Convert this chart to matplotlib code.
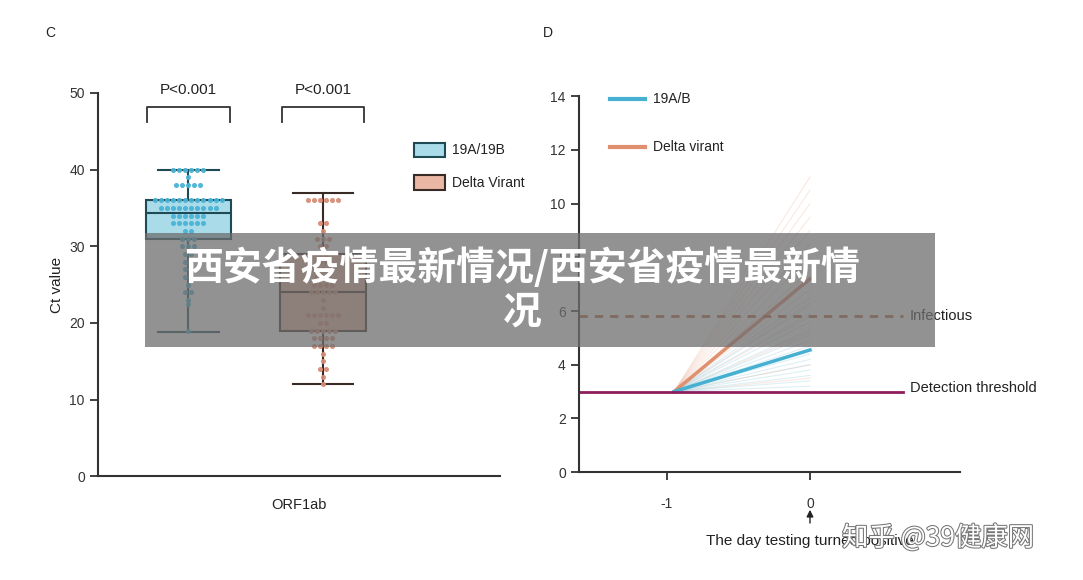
import matplotlib
matplotlib.use("Agg")
import matplotlib.pyplot as plt
import matplotlib.patheffects as pe
import numpy as np
from matplotlib.patches import Rectangle

plt.rcParams['font.family'] = ['Liberation Sans', 'Noto Sans CJK SC', 'DejaVu Sans']
plt.rcParams['axes.unicode_minus'] = False

# ---- data panel C ----
groups = ["19A/19B", "Delta Virant"]
box_stats = [
    dict(q1=31.0, med=34.3, q3=36.0, whislo=18.8, whishi=40.0),
    dict(q1=19.0, med=24.0, q3=29.0, whislo=12.0, whishi=37.0),
]
dots_a = [40]*6 + [39] + [38]*5 + [36]*12 + [35]*10 + [34]*6 + [33]*6 + [32]*2 + [31]*3 + [30]*3 + \
         [29]*2 + [28]*2 + [27]*2 + [26]*2 + [25] + [24]*2 + [23] + [22.5] + [19]
dots_b = [36]*6 + [33]*2 + [32] + [31]*3 + [30]*2 + [29]*2 + [28]*2 + [27]*3 + [26]*3 + [25]*4 + [24]*5 + \
         [23] + [22] + [21]*6 + [20]*2 + [19]*5 + [18]*4 + [17]*4 + [16] + [15] + [14]*2 + [13] + [12]
p_labels = ["P<0.001", "P<0.001"]

# ---- data panel D ----
x_days = [-0.95, 0.0]
start_val = 3.0
mean_a_end = 4.55
mean_b_end = 7.2
faint_a_end = [3.2, 3.4, 3.6, 3.8, 4.0, 4.2, 4.4, 4.7, 4.9, 5.1, 5.3, 5.6, 5.9, 6.2, 6.5]
faint_b_end = [3.5, 4.0, 4.6, 5.2, 5.8, 6.3, 6.8, 7.5, 8.0, 8.5, 9.0, 9.5, 10.0, 10.5, 11.0]
infectious = 5.8
threshold = 3.0

fig = plt.figure(figsize=(10.83, 5.8), dpi=100)

# ---------- Panel C ----------
ax = fig.add_axes([0.0905, 0.179, 0.371, 0.6607])
pos = [0.9, 2.24]
fills = ["#a9dbe9", "#e9b7a3"]
edges = ["#1e4a55", "#3a2a26"]
dotc = ["#49b3d6", "#d88b74"]
for i, st in enumerate(box_stats):
    st = dict(st, fliers=[])
    ax.bxp([st], positions=[pos[i]], widths=0.85, patch_artist=True, showfliers=False,
           boxprops=dict(facecolor=fills[i], edgecolor=edges[i], linewidth=1.5),
           medianprops=dict(color=edges[i], linewidth=1.5),
           whiskerprops=dict(color=edges[i], linewidth=1.5),
           capprops=dict(color=edges[i], linewidth=1.5), capwidths=0.6)
for i, d in enumerate([dots_a, dots_b]):
    vals = np.array(d, float)
    xs = []
    for j, v in enumerate(vals):
        same = np.where(vals == v)[0]
        k = list(same).index(j)
        n = len(same)
        xs.append(pos[i] + (k - (n - 1) / 2) * 0.06)
    ax.scatter(xs, vals, s=7, color=dotc[i], zorder=3, alpha=0.9)
for i in range(2):
    x0, x1 = pos[i] - 0.41, pos[i] + 0.41
    ax.plot([x0, x0, x1, x1], [46.2, 48.2, 48.2, 46.2], color="#333", lw=1.3, clip_on=False)
    ax.text(pos[i], 49.5, p_labels[i], ha="center", va="bottom", fontsize=11, color="#222")
ax.set_xlim(0, 4)
ax.set_ylim(0, 50)
ax.set_yticks(range(0, 51, 10))
ax.set_xticks([])
ax.set_xlabel("ORF1ab", fontsize=10.5, labelpad=16, color="#222")
ax.set_ylabel("Ct value", fontsize=11, color="#222")
for s in ["top", "right"]:
    ax.spines[s].set_visible(False)
for s in ["left", "bottom"]:
    ax.spines[s].set_linewidth(1.5)
    ax.spines[s].set_color("#333")
ax.tick_params(labelsize=10, colors="#333", width=1.3, length=6)
for i, g in enumerate(groups):
    yy = 42.5 - i * 4.2
    ax.add_patch(Rectangle((3.15, yy - 0.9), 0.3, 1.9, facecolor=fills[i], edgecolor=edges[i],
                           lw=1.5, clip_on=False))
    ax.text(3.52, yy, g, va="center", fontsize=10, color="#222")

# ---------- Panel D ----------
bx = fig.add_axes([0.5346, 0.186, 0.352, 0.648])
for e in faint_b_end:
    bx.plot(x_days, [start_val, e], color="#e8a58c", lw=0.8, alpha=0.25)
for e in faint_a_end:
    bx.plot(x_days, [start_val, e], color="#8fcbe0", lw=0.8, alpha=0.3)
bx.plot(x_days, [start_val, mean_b_end], color="#e0906f", lw=2.5)
bx.plot(x_days, [start_val, mean_a_end], color="#46b0d2", lw=2.5)
bx.plot([-1.615, 0.65], [infectious, infectious], color="#b3633c", lw=2, ls=(0, (3, 2.5)))
bx.plot([-1.615, 0.65], [threshold, threshold], color="#8e1d5d", lw=2)
bx.text(0.7, infectious, "Infectious", va="center", fontsize=10.5, color="#222")
bx.text(0.7, threshold + 0.15, "Detection threshold", va="center", fontsize=10.5, color="#222")
bx.plot([-1.4, -1.15], [13.9, 13.9], color="#46b0d2", lw=3, clip_on=False)
bx.text(-1.1, 13.9, "19A/B", va="center", fontsize=10, color="#222")
bx.plot([-1.4, -1.15], [12.1, 12.1], color="#e0906f", lw=3, clip_on=False)
bx.text(-1.1, 12.1, "Delta virant", va="center", fontsize=10, color="#222")
bx.set_xlim(-1.615, 1.05)
bx.set_ylim(0, 14)
bx.set_yticks(range(0, 15, 2))
bx.set_xticks([-1, 0])
for s in ["top", "right"]:
    bx.spines[s].set_visible(False)
for s in ["left", "bottom"]:
    bx.spines[s].set_linewidth(1.5)
    bx.spines[s].set_color("#333")
bx.tick_params(labelsize=10, colors="#333", width=1.3, length=6)
bx.tick_params(axis="x", pad=12)
bx.annotate("", xy=(0, -1.3), xytext=(0, -2.0), annotation_clip=False,
            arrowprops=dict(arrowstyle="-|>", color="#222", lw=1))
bx.text(0, -2.3, "The day testing turned positive", ha="center", va="top", fontsize=11, color="#222")

fig.text(45/1083, 1 - 33/580, "C", fontsize=10, va="center", color="#222")
fig.text(543/1083, 1 - 33/580, "D", fontsize=10, va="center", color="#222")

# banner overlay
fig.patches.append(Rectangle((145/1083, 1 - 347/580), 790/1083, 114/580, transform=fig.transFigure,
                             facecolor="#6e6e6e", alpha=0.75, edgecolor="none", zorder=10))
fig.text(522/1083, 1 - 268/580, "西安省疫情最新情况/西安省疫情最新情", ha="center", va="center",
         fontsize=28, fontweight="bold", color="white", zorder=11, family=['Noto Sans CJK SC'])
fig.text(522/1083, 1 - 312/580, "况", ha="center", va="center",
         fontsize=28, fontweight="bold", color="white", zorder=11, family=['Noto Sans CJK SC'])
fig.text(938/1083, 1 - 538/580, "知乎 @39健康网", ha="center", va="center", fontsize=19,
         color="white", zorder=11, family=['Noto Sans CJK SC', 'DejaVu Sans'],
         path_effects=[pe.withStroke(linewidth=1.5, foreground="#777")])

fig.savefig("out.png", dpi=100, facecolor="white")
